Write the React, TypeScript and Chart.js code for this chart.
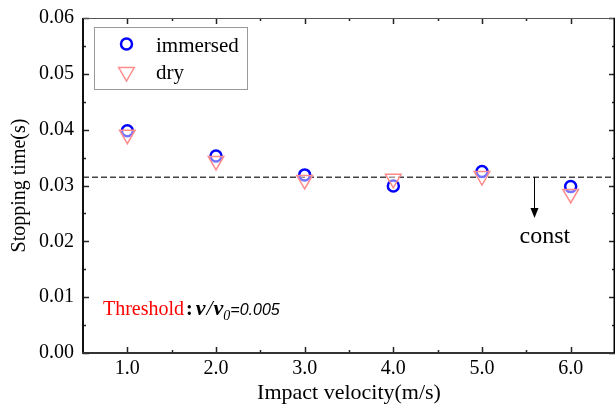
import React, { useEffect, useRef } from "react";
import { Chart, registerables } from "chart.js";

Chart.register(...registerables);

// ---- data ----
const velocities = [1.0, 2.0, 3.0, 4.0, 5.0, 6.0];
const immersedTimes = [0.0398, 0.0353, 0.0319, 0.0299, 0.0325, 0.0298];
const dryTimes = [0.0391, 0.0344, 0.031, 0.0312, 0.0317, 0.0285];
const constTime = 0.0315;
const seriesNames = ["immersed", "dry"];
const xTickValues = [1, 2, 3, 4, 5, 6];
const xMinorValues = [1.5, 2.5, 3.5, 4.5, 5.5];
const yTickValues = [0, 0.01, 0.02, 0.03, 0.04, 0.05, 0.06];
const yMinorValues = [0.005, 0.015, 0.025, 0.035, 0.045, 0.055];
const xTitle = "Impact velocity(m/s)";
const yTitle = "Stopping time(s)";
const constLabel = "const";
const thresholdWord = "Threshold";

// ---- annotation anchors (data coordinates) ----
const X_MIN = 0.5;
const X_MAX = 6.5;
const Y_MIN = 0;
const Y_MAX = 0.06;
const ARROW_X = 5.59;
const ARROW_TIP_Y = 0.0242;
const CONST_TEXT_X = 5.71;
const CONST_TEXT_Y = 0.0197;
const THRESH_X = 0.725;
const THRESH_Y = 0.0068;

const SERIF = "'Liberation Serif', 'Times New Roman', serif";
const SANS = "'Liberation Sans', Arial, sans-serif";
const BLUE = "#0000FF";
const PINK = "#FF8C8C";

function drawTriangleDown(ctx: CanvasRenderingContext2D, x: number, y: number, r: number) {
  const w = r * Math.sin(Math.PI / 3);
  ctx.beginPath();
  ctx.moveTo(x, y + r);
  ctx.lineTo(x - w, y - r / 2);
  ctx.lineTo(x + w, y - r / 2);
  ctx.closePath();
}

export default function App() {
  const ref = useRef<HTMLCanvasElement>(null);

  useEffect(() => {
    document.body.style.margin = "0";
    const canvas = ref.current;
    if (!canvas) return;

    const fixArea = {
      id: "fixArea",
      afterLayout(chart: any) {
        const target = chart.width - 1;
        const ca = chart.chartArea;
        ca.right = target;
        ca.width = ca.right - ca.left;
        const xs = chart.scales.x;
        xs.right = target;
        xs.width = xs.right - xs.left;
        xs.configure();
      },
    };

    const overlay = {
      id: "overlay",
      afterDraw(chart: any) {
        const { ctx, chartArea: a, scales } = chart;
        const xs = scales.x;
        const ys = scales.y;
        ctx.save();

        const line = (x1: number, y1: number, x2: number, y2: number) => {
          ctx.beginPath();
          ctx.moveTo(x1, y1);
          ctx.lineTo(x2, y2);
          ctx.stroke();
        };
        // ticks (inward on all four sides)
        ctx.strokeStyle = "#222";
        ctx.lineWidth = 1.5;
        xTickValues.forEach((v) => {
          const p = Math.round(xs.getPixelForValue(v)) + 0.5;
          line(p, a.bottom, p, a.bottom - 6);
          line(p, a.top, p, a.top + 6);
        });
        xMinorValues.forEach((v) => {
          const p = Math.round(xs.getPixelForValue(v)) + 0.5;
          line(p, a.bottom, p, a.bottom - 3);
          line(p, a.top, p, a.top + 3);
        });
        yTickValues.forEach((v) => {
          const p = Math.round(ys.getPixelForValue(v)) + 0.5;
          line(a.left, p, a.left + 6, p);
          line(a.right, p, a.right - 6, p);
        });
        yMinorValues.forEach((v) => {
          const p = Math.round(ys.getPixelForValue(v)) + 0.5;
          line(a.left, p, a.left + 3, p);
          line(a.right, p, a.right - 3, p);
        });

        // frame
        ctx.strokeStyle = "#111";
        ctx.lineWidth = 2;
        line(a.left, a.top, a.left, a.bottom + 1);
        ctx.strokeStyle = "#333";
        line(a.left - 1, a.bottom, a.right, a.bottom);
        ctx.lineWidth = 1;
        ctx.strokeStyle = "#555";
        line(a.left, a.top + 0.5, a.right, a.top + 0.5);
        ctx.strokeStyle = "#000";
        ctx.lineWidth = 1.5;
        line(a.right - 0.75, a.top, a.right - 0.75, a.bottom);

        // legend
        ctx.fillStyle = "#fff";
        ctx.fillRect(94.5, 27.5, 153, 62);
        ctx.strokeStyle = "#999";
        ctx.lineWidth = 1;
        ctx.strokeRect(94.5, 27.5, 153, 62);
        ctx.strokeStyle = BLUE;
        ctx.lineWidth = 2.5;
        ctx.beginPath();
        ctx.arc(126.5, 44, 5.5, 0, Math.PI * 2);
        ctx.stroke();
        ctx.strokeStyle = PINK;
        ctx.lineWidth = 1.5;
        drawTriangleDown(ctx, 126.5, 72, 9);
        ctx.stroke();
        ctx.fillStyle = "#000";
        ctx.font = `21px ${SERIF}`;
        ctx.textAlign = "left";
        ctx.textBaseline = "alphabetic";
        ctx.fillText(seriesNames[0], 156, 52);
        ctx.fillText(seriesNames[1], 156, 79);

        // const arrow
        const ax = Math.round(xs.getPixelForValue(ARROW_X)) + 0.5;
        const ay0 = ys.getPixelForValue(constTime);
        const ay1 = ys.getPixelForValue(ARROW_TIP_Y);
        ctx.strokeStyle = "#000";
        ctx.lineWidth = 1;
        line(ax, ay0, ax, ay1 - 8);
        ctx.fillStyle = "#000";
        ctx.beginPath();
        ctx.moveTo(ax, ay1);
        ctx.lineTo(ax - 4, ay1 - 10);
        ctx.lineTo(ax + 4, ay1 - 10);
        ctx.closePath();
        ctx.fill();
        ctx.font = `24px ${SERIF}`;
        ctx.textAlign = "center";
        ctx.fillText(constLabel, xs.getPixelForValue(CONST_TEXT_X), ys.getPixelForValue(CONST_TEXT_Y));

        // threshold text
        ctx.textAlign = "left";
        let tx = xs.getPixelForValue(THRESH_X);
        const ty = ys.getPixelForValue(THRESH_Y);
        ctx.font = `20px ${SERIF}`;
        ctx.fillStyle = "#FF0000";
        ctx.fillText(thresholdWord, tx, ty);
        tx += ctx.measureText(thresholdWord).width + 2;
        ctx.fillStyle = "#000";
        ctx.font = `bold 20px ${SERIF}`;
        ctx.fillText(":", tx, ty);
        tx += ctx.measureText(":").width + 3;
        ctx.font = `italic bold 22px ${SERIF}`;
        ctx.fillText("v", tx, ty);
        tx += ctx.measureText("v").width + 1;
        ctx.font = `italic 22px ${SERIF}`;
        ctx.fillText("/", tx, ty);
        tx += ctx.measureText("/").width + 1;
        ctx.font = `italic bold 22px ${SERIF}`;
        ctx.fillText("v", tx, ty);
        tx += ctx.measureText("v").width;
        ctx.font = `italic 14px ${SERIF}`;
        ctx.fillText("0", tx, ty + 5);
        tx += ctx.measureText("0").width;
        ctx.font = `italic 16px ${SANS}`;
        ctx.fillText("=0.005", tx, ty);

        ctx.restore();
      },
    };

    const chart = new Chart(canvas, {
      type: "scatter",
      data: {
        datasets: [
          {
            type: "line",
            label: "const",
            data: [
              { x: X_MIN, y: constTime },
              { x: X_MAX, y: constTime },
            ],
            borderColor: "#444",
            borderWidth: 1.5,
            borderDash: [6, 3],
            pointRadius: 0,
            order: 3,
          } as any,
          {
            label: seriesNames[0],
            data: velocities.map((v, i) => ({ x: v, y: immersedTimes[i] })),
            pointStyle: "circle",
            pointRadius: 5.5,
            pointBorderWidth: 2.5,
            borderColor: BLUE,
            pointBorderColor: BLUE,
            backgroundColor: "rgba(0,0,0,0)",
            pointBackgroundColor: "rgba(0,0,0,0)",
            order: 2,
          },
          {
            label: seriesNames[1],
            data: velocities.map((v, i) => ({ x: v, y: dryTimes[i] })),
            pointStyle: "triangle",
            pointRotation: 180,
            pointRadius: 9,
            pointBorderWidth: 1.5,
            borderColor: PINK,
            pointBorderColor: PINK,
            backgroundColor: "rgba(255,255,255,0.45)",
            pointBackgroundColor: "rgba(255,255,255,0.45)",
            order: 1,
          },
        ],
      },
      options: {
        animation: false,
        responsive: false,
        events: [],
        layout: { padding: { top: 18, right: 1, left: 0, bottom: 0 } },
        plugins: {
          legend: { display: false },
          tooltip: { enabled: false },
        },
        scales: {
          x: {
            type: "linear",
            min: X_MIN,
            max: X_MAX,
            grid: { display: false, drawTicks: false },
            border: { display: false },
            afterBuildTicks: (s: any) => {
              s.ticks = xTickValues.map((v) => ({ value: v }));
            },
            afterFit: (s: any) => {
              s.height = 60;
              s.paddingLeft = 0;
              s.paddingRight = 0;
            },
            ticks: {
              padding: 4,
              color: "#000",
              font: { size: 20, family: SERIF },
              callback: (v: any) => Number(v).toFixed(1),
            },
            title: {
              display: true,
              text: xTitle,
              color: "#000",
              font: { size: 22, family: SERIF },
              padding: { top: 0, bottom: 7 },
            },
          },
          y: {
            type: "linear",
            min: Y_MIN,
            max: Y_MAX,
            grid: { display: false, drawTicks: false },
            border: { display: false },
            afterBuildTicks: (s: any) => {
              s.ticks = yTickValues.map((v) => ({ value: v }));
            },
            afterFit: (s: any) => {
              s.width = 83;
              s.paddingTop = 0;
              s.paddingBottom = 0;
            },
            ticks: {
              padding: 9,
              color: "#000",
              font: { size: 20, family: SERIF },
              callback: (v: any) => Number(v).toFixed(2),
            },
            title: {
              display: true,
              text: yTitle,
              color: "#000",
              font: { size: 20, family: SERIF },
              padding: { top: 8, bottom: 0 },
            },
          },
        },
      },
      plugins: [fixArea, overlay],
    } as any);

    return () => chart.destroy();
  }, []);

  return (
    <div style={{ width: 616, height: 413 }}>
      <canvas ref={ref} width={616} height={413} style={{ display: "block" }} />
    </div>
  );
}
